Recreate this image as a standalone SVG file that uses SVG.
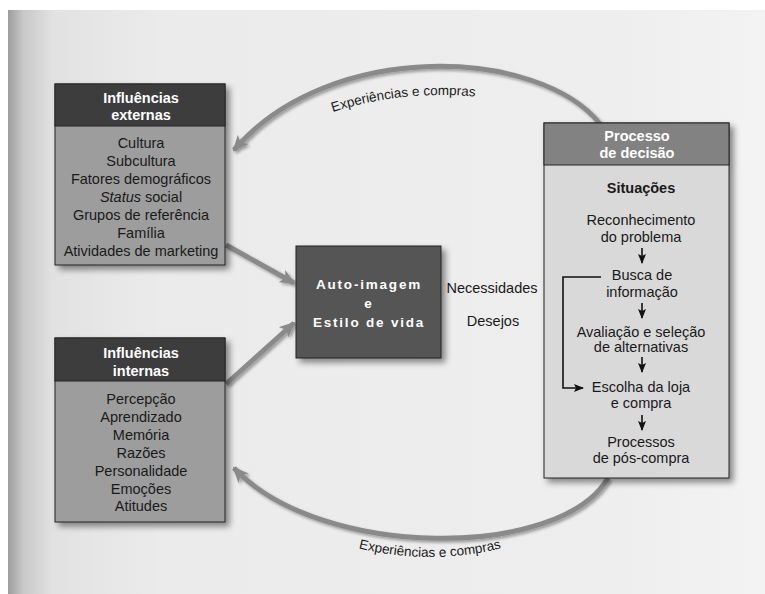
<svg xmlns="http://www.w3.org/2000/svg" width="765" height="594" viewBox="0 0 765 594">
  <defs>
    <linearGradient id="page" x1="0" y1="0" x2="1" y2="0">
      <stop offset="0" stop-color="#9c9c9c"/>
      <stop offset="0.02" stop-color="#c8c8c8"/>
      <stop offset="0.06" stop-color="#e2e2e2"/>
      <stop offset="0.2" stop-color="#ebebeb"/>
      <stop offset="0.8" stop-color="#eeeeee"/>
      <stop offset="1" stop-color="#f3f3f3"/>
    </linearGradient>
    <filter id="shadow" x="-20%" y="-20%" width="140%" height="140%">
      <feDropShadow dx="4" dy="4" stdDeviation="3" flood-color="#000" flood-opacity="0.45"/>
    </filter>
    <filter id="lshadow" x="-20%" y="-20%" width="140%" height="140%">
      <feDropShadow dx="2" dy="2" stdDeviation="1.5" flood-color="#000" flood-opacity="0.35"/>
    </filter>
    <marker id="big" viewBox="0 0 16 14" refX="14" refY="7" markerWidth="16" markerHeight="14" markerUnits="userSpaceOnUse" orient="auto-start-reverse">
      <path d="M0,0 L16,7 L0,14 L4,7 Z" fill="#8a8a8a"/>
    </marker>
    <marker id="small" viewBox="0 0 10 8" refX="9" refY="4" markerWidth="10" markerHeight="8" markerUnits="userSpaceOnUse" orient="auto">
      <path d="M0,0 L10,4 L0,8 L2,4 Z" fill="#111"/>
    </marker>
    <style>
      .t { font-family: "Liberation Sans", Arial, sans-serif; font-size: 14.5px; fill: #1a1a1a; text-anchor: middle; }
      .h { font-family: "Liberation Sans", Arial, sans-serif; font-size: 14.5px; font-weight: bold; fill: #ffffff; text-anchor: middle; }
      .c { font-family: "Liberation Sans", Arial, sans-serif; font-size: 13.5px; font-weight: bold; fill: #ffffff; text-anchor: middle; letter-spacing: 1.8px; }
      .arc { fill: none; stroke: #8a8a8a; stroke-width: 5; }
      .thin { fill: none; stroke: #111; stroke-width: 1.6; }
      .box { stroke: #222; stroke-width: 1; }
    </style>
  </defs>

  <rect x="0" y="0" width="765" height="594" fill="#ffffff"/>
  <rect x="8" y="10" width="757" height="584" fill="url(#page)"/>

  <g id="connectors">
    <path class="arc" d="M 600 124 C 540 48, 330 38, 234 150" marker-end="url(#big)" filter="url(#lshadow)"/>
    <path class="arc" d="M 608 478 C 560 560, 320 560, 234 468" marker-end="url(#big)" filter="url(#lshadow)"/>
    <path class="arc" d="M 226 245 L 294 283" marker-end="url(#big)" filter="url(#lshadow)"/>
    <path class="arc" d="M 226 384 L 294 323" marker-end="url(#big)" filter="url(#lshadow)"/>
    <path class="arc" d="M 139 268 L 139 336" marker-start="url(#big)" marker-end="url(#big)" filter="url(#lshadow)"/>
    <path class="arc" d="M 441 304 L 543 304" marker-end="url(#big)" filter="url(#lshadow)"/>
    <path id="topLabelPath" fill="none" d="M 245 165 C 335 72, 530 82, 585 135"/>
    <path id="botLabelPath" fill="none" d="M 300 528 Q 430 586 560 528"/>
    <text class="t" style="font-size:13.5px"><textPath href="#topLabelPath" startOffset="48%">Experiências e compras</textPath></text>
    <text class="t" style="font-size:13.5px"><textPath href="#botLabelPath" startOffset="50%">Experiências e compras</textPath></text>
    <text class="t" x="492" y="293">Necessidades</text>
    <text class="t" x="493" y="326">Desejos</text>
  </g>

  <g id="externas">
    <g filter="url(#shadow)">
      <rect class="box" x="55" y="84" width="170" height="181" fill="#9d9d9d"/>
      <rect class="box" x="55" y="84" width="170" height="42" fill="#3e3e3e"/>
    </g>
    <text class="h" x="141" y="103">Influências</text>
    <text class="h" x="141" y="120">externas</text>
    <text class="t" x="141" y="148">Cultura</text>
    <text class="t" x="141" y="166">Subcultura</text>
    <text class="t" x="141" y="184">Fatores demográficos</text>
    <text class="t" x="141" y="202"><tspan font-style="italic">Status</tspan> social</text>
    <text class="t" x="141" y="220">Grupos de referência</text>
    <text class="t" x="141" y="238">Família</text>
    <text class="t" x="141" y="256">Atividades de marketing</text>
  </g>

  <g id="internas">
    <g filter="url(#shadow)">
      <rect class="box" x="55" y="338" width="170" height="184" fill="#9d9d9d"/>
      <rect class="box" x="55" y="338" width="170" height="43" fill="#3e3e3e"/>
    </g>
    <text class="h" x="141" y="358">Influências</text>
    <text class="h" x="141" y="376">internas</text>
    <text class="t" x="141" y="404">Percepção</text>
    <text class="t" x="141" y="422">Aprendizado</text>
    <text class="t" x="141" y="440">Memória</text>
    <text class="t" x="141" y="458">Razões</text>
    <text class="t" x="141" y="476">Personalidade</text>
    <text class="t" x="141" y="494">Emoções</text>
    <text class="t" x="141" y="511">Atitudes</text>
  </g>

  <g id="autoimagem">
    <rect class="box" x="296" y="246" width="145" height="112" fill="#545454" filter="url(#shadow)"/>
    <text class="c" x="369" y="289">Auto-imagem</text>
    <text class="c" x="369" y="308">e</text>
    <text class="c" x="369" y="327">Estilo de vida</text>
  </g>

  <g id="decisao">
    <g filter="url(#shadow)">
      <rect class="box" x="544" y="123" width="185" height="355" fill="#d9d9d9"/>
      <rect class="box" x="544" y="123" width="185" height="42" fill="#828282"/>
    </g>
    <text class="h" x="637" y="141">Processo</text>
    <text class="h" x="637" y="158">de decisão</text>
    <text class="t" x="641" y="193" font-weight="bold">Situações</text>
    <text class="t" x="641" y="225">Reconhecimento</text>
    <text class="t" x="641" y="242">do problema</text>
    <path class="thin" d="M 642 248 L 642 263" marker-end="url(#small)"/>
    <text class="t" x="642" y="280">Busca de</text>
    <text class="t" x="642" y="297">informação</text>
    <path class="thin" d="M 642 303 L 642 318" marker-end="url(#small)"/>
    <text class="t" x="641" y="337">Avaliação e seleção</text>
    <text class="t" x="641" y="352">de alternativas</text>
    <path class="thin" d="M 642 357 L 642 372" marker-end="url(#small)"/>
    <text class="t" x="641" y="392">Escolha da loja</text>
    <text class="t" x="641" y="408">e compra</text>
    <path class="thin" d="M 642 415 L 642 430" marker-end="url(#small)"/>
    <text class="t" x="641" y="447">Processos</text>
    <text class="t" x="641" y="463">de pós-compra</text>
    <path class="thin" d="M 601 277 L 563 277 L 563 388 L 583 388" marker-end="url(#small)"/>
  </g>
</svg>
